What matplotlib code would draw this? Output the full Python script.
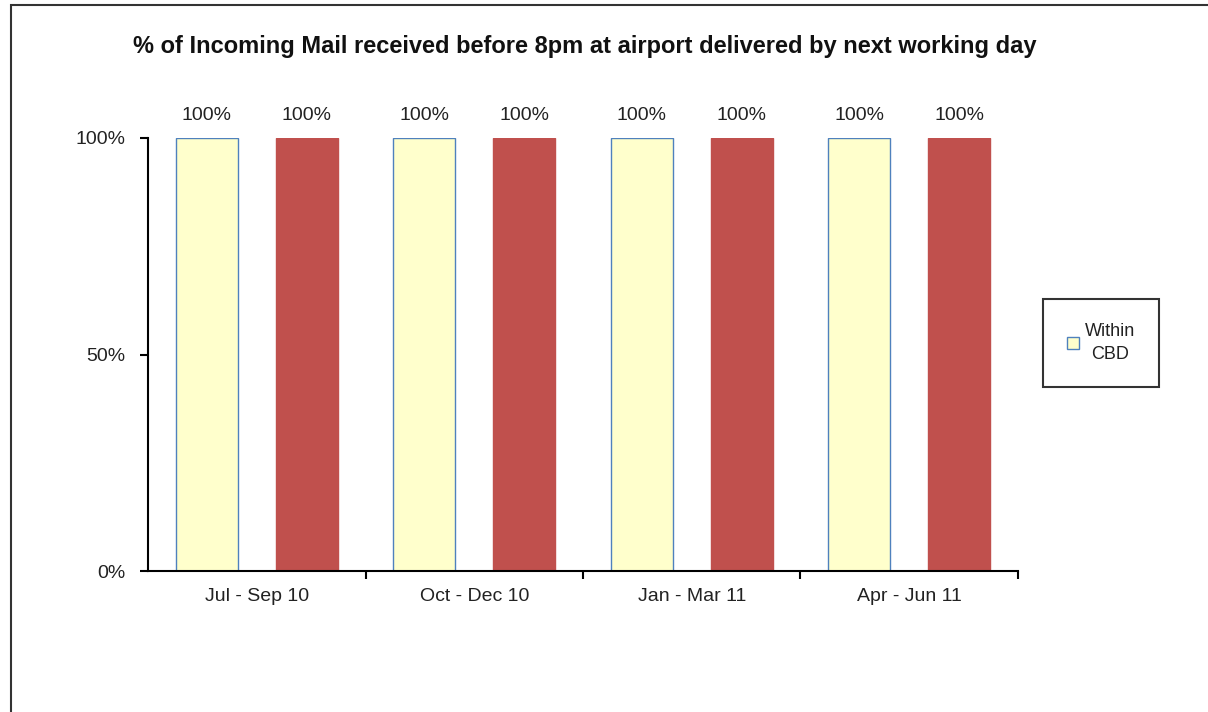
import numpy as np
import matplotlib.pyplot as plt
from matplotlib.patches import Rectangle

plt.rcParams['font.family'] = ['Liberation Sans', 'DejaVu Sans']

quarters = ['Jul - Sep 10', 'Oct - Dec 10', 'Jan - Mar 11', 'Apr - Jun 11']
within_cbd = [100, 100, 100, 100]
outside_cbd = [100, 100, 100, 100]
bar_labels = ['100%', '100%', '100%', '100%']

fig = plt.figure(figsize=(12.08, 7.12), dpi=100)
# outer frame of the chart area
fig.add_artist(Rectangle((11/1208, -0.01), 1.1, 1 - 5/712 + 0.01, transform=fig.transFigure,
                         fill=False, edgecolor='#333333', linewidth=1.5))

ax = fig.add_axes([148/1208, (712-571)/712, 870/1208, 433/712])
x = np.arange(len(quarters)) + 0.5
w = 0.285
off = 0.23
b1 = ax.bar(x - off, within_cbd, w, color='#FFFFCC', edgecolor='#4F81BD', linewidth=1, label='Within\nCBD')
b2 = ax.bar(x + off, outside_cbd, w, color='#C0504D', edgecolor='#C0504D', linewidth=1)
for bars in (b1, b2):
    for r, lab in zip(bars, bar_labels):
        ax.text(r.get_x() + r.get_width()/2, r.get_height() + 3.2, lab, ha='center', va='bottom',
                fontsize=14, color='#222222', clip_on=False)

ax.set_xlim(0, len(quarters))
ax.set_ylim(0, 100)
ax.set_yticks([0, 50, 100])
ax.set_yticklabels(['0%', '50%', '100%'], fontsize=14, color='#222222')
ax.set_xticks(x)
ax.set_xticklabels(quarters, fontsize=14, color='#222222')
ax.tick_params(axis='x', which='major', length=0, pad=12)
ax.set_xticks(np.arange(1, len(quarters) + 1), minor=True)
ax.tick_params(axis='x', which='minor', length=6, width=1.5, direction='out')
ax.tick_params(axis='y', length=6, width=1.5, pad=10)
for s in ('top', 'right'):
    ax.spines[s].set_visible(False)
for s in ('left', 'bottom'):
    ax.spines[s].set_linewidth(1.5)

fig.text(585/1208, 1 - 47/712, '% of Incoming Mail received before 8pm at airport delivered by next working day',
         ha='center', va='center', fontsize=17, fontweight='bold', color='#111111')

leg = fig.legend(handles=[b1], loc='center', bbox_to_anchor=(1101/1208, 1 - 343/712),
                 fontsize=13, frameon=True, fancybox=False, handlelength=0.7, handleheight=0.7,
                 handletextpad=0.3, borderpad=1.3)
leg.get_frame().set_edgecolor('black')
leg.get_frame().set_linewidth(1.5)
for t in leg.get_texts():
    t.set_multialignment('center')
    t.set_linespacing(1.5)
    t.set_color('#222222')

fig.savefig('out.png', dpi=100)
